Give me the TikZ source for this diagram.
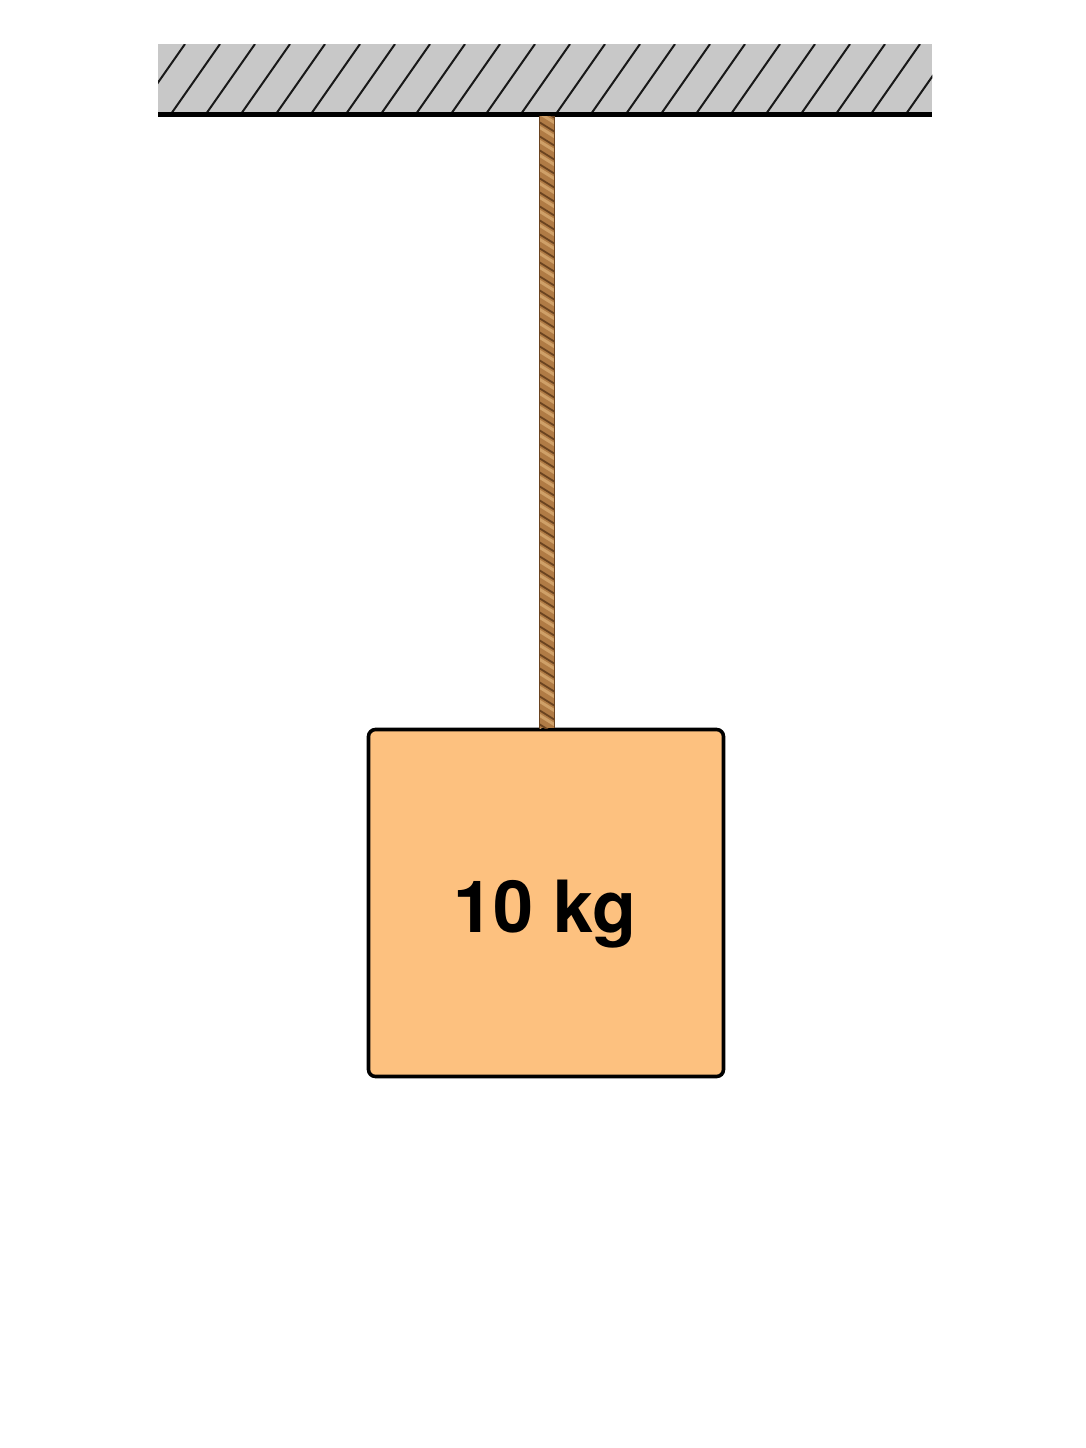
\documentclass[tikz,border=0pt]{standalone}
\usepackage{fontspec}
\setmainfont{TeX Gyre Heros}
\begin{document}
\begin{tikzpicture}[x=1pt,y=-1pt,
  ceilingfill/.style={fill=ceilgray, draw=none},
  hatchline/.style={draw=black!90, line width=2pt},
  groundline/.style={draw=black, line width=4.5pt},
  blockbox/.style={draw=black, line width=3.6pt, fill=blockfill, rounded corners=7pt, minimum width=355pt, minimum height=347pt, inner sep=0pt},
  masslabel/.style={font=\bfseries\fontsize{72}{80}\selectfont, text=black, inner sep=0pt},
  ropebody/.style={draw=ropebase, line width=15pt},
  ropeedge/.style={draw=ropedark, line width=1.2pt},
  ropestrand/.style={draw=ropedark, line width=1.8pt},
  ropelight/.style={draw=ropelightc, line width=3pt}
]
\definecolor{ceilgray}{HTML}{C8C8C8}
\definecolor{blockfill}{HTML}{FDC17F}
\definecolor{ropebase}{HTML}{B07B45}
\definecolor{ropedark}{HTML}{6A4320}
\definecolor{ropelightc}{HTML}{CFA068}
\useasboundingbox[fill=white] (0,0) rectangle (1086,1448);

% ceiling
\node[ceilingfill, minimum width=774pt, minimum height=70pt, inner sep=0pt, anchor=north west] (ceiling) at (158,44) {};
\begin{scope}
  \clip (ceiling.north west) rectangle (ceiling.south east);
  \foreach \k in {-1,0,...,22} {
    \draw[hatchline] ({185+35*\k},44) -- ({185+35*\k-49},114);
  }
\end{scope}
\draw[groundline] (ceiling.south west) -- (ceiling.south east);
\coordinate (ropetop) at (547,116);

% block
\node[blockbox] (block) at (546,903) {};
\node[masslabel, anchor=base] (mass) at (545,932) {10 kg};
\coordinate (ropebot) at (547,728);

% rope
\draw[ropebody] (ropetop) -- (ropebot);
\begin{scope}
  \clip (539.5,116) rectangle (554.5,728);
  \foreach \y in {108,122,...,740} {
    \draw[ropelight] (539,{\y+5}) -- (555,{\y+15});
    \draw[ropestrand] (539,\y) -- (555,{\y+10});
  }
\end{scope}
\draw[ropeedge] ([xshift=-7.5pt]ropetop) -- ([xshift=-7.5pt]ropebot);
\draw[ropeedge] ([xshift=7.5pt]ropetop) -- ([xshift=7.5pt]ropebot);
\end{tikzpicture}
\end{document}
